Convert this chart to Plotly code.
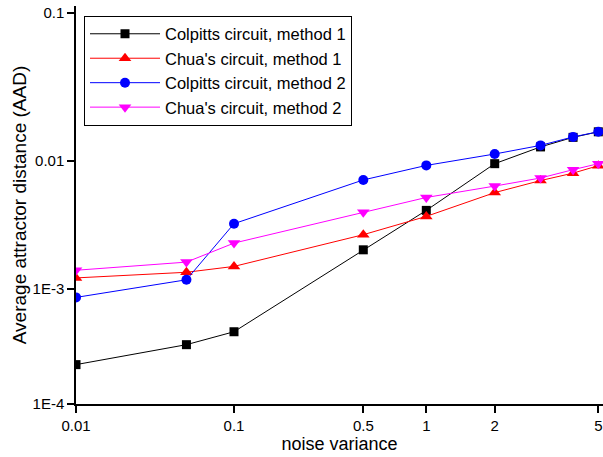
import numpy as np
import plotly.graph_objects as go

# ---- data ----
noise_variance = [0.01, 0.05, 0.1, 0.5, 1, 2, 3, 4, 5]
colpitts_m1 = [2.20e-4, 3.28e-4, 4.25e-4, 2.02e-3, 4.10e-3, 9.48e-3, 1.24e-2, 1.44e-2, 1.57e-2]
chua_m1 = [1.22e-3, 1.35e-3, 1.50e-3, 2.65e-3, 3.68e-3, 5.64e-3, 7.00e-3, 8.00e-3, 9.14e-3]
colpitts_m2 = [8.45e-4, 1.18e-3, 3.23e-3, 7.08e-3, 9.19e-3, 1.11e-2, 1.27e-2, 1.45e-2, 1.57e-2]
chua_m2 = [1.40e-3, 1.62e-3, 2.28e-3, 3.96e-3, 5.17e-3, 6.34e-3, 7.33e-3, 8.51e-3, 9.48e-3]

series_names = ["Colpitts circuit, method 1", "Chua's circuit, method 1",
                "Colpitts circuit, method 2", "Chua's circuit, method 2"]

x_tick_values = [0.01, 0.1, 0.5, 1, 2, 5]
x_tick_labels = ["0.01", "0.1", "0.5", "1", "2", "5"]
y_tick_values = [1e-4, 1e-3, 1e-2, 1e-1]
y_tick_labels = ["1E-4", "1E-3", "0.01", "0.1"]

# ---- axis scales (the reference uses a non-uniform, piecewise logarithmic scale) ----
x_scale_anchor = [0.0, 158.0, 287.3, 350.3, 418.7, 522.3]
y_scale_anchor = [0.0, 115.0, 243.3, 390.8]


def x_scale(v):
    return np.interp(np.log10(np.asarray(v, float)), np.log10(x_tick_values), x_scale_anchor)


def y_scale(v):
    return np.interp(np.log10(np.asarray(v, float)), np.log10(y_tick_values), y_scale_anchor)


styles = [
    dict(color="#000000", symbol="square", size=9),
    dict(color="#FF0000", symbol="triangle-up", size=11),
    dict(color="#0000FF", symbol="circle", size=10),
    dict(color="#FF00FF", symbol="triangle-down", size=11),
]
all_series = [colpitts_m1, chua_m1, colpitts_m2, chua_m2]

fig = go.Figure()
for name, vals, st in zip(series_names, all_series, styles):
    fig.add_trace(go.Scatter(
        x=x_scale(noise_variance), y=y_scale(vals), name=name,
        mode="lines+markers",
        line=dict(color=st["color"], width=1),
        marker=dict(symbol=st["symbol"], size=st["size"], color=st["color"]),
        customdata=np.column_stack([noise_variance, vals]),
        hovertemplate="%{customdata[0]}, %{customdata[1]:.3g}<extra>" + name + "</extra>",
    ))

font_family = "Liberation Sans, Arial, sans-serif"
fig.update_layout(
    width=603, height=457,
    margin=dict(l=76, r=0, t=6, b=53),
    paper_bgcolor="white", plot_bgcolor="white",
    font=dict(family=font_family, color="black", size=15),
    showlegend=True,
    legend=dict(
        x=0.0152, y=0.976, xanchor="left", yanchor="top",
        bordercolor="black", borderwidth=1, bgcolor="white",
        font=dict(size=16.5, family=font_family),
        itemwidth=70, tracegroupgap=0,
        entrywidth=310, entrywidthmode="pixels",
    ),
    xaxis=dict(
        range=[0, 527], showgrid=False, zeroline=False,
        tickvals=x_scale(x_tick_values), ticktext=x_tick_labels,
        ticks="outside", ticklen=7, tickwidth=1.5, tickcolor="black",
        showline=True, linecolor="black", linewidth=1.5,
        tickfont=dict(size=15),
        title=dict(text="noise variance", font=dict(size=18), standoff=5),
        automargin=False,
    ),
    yaxis=dict(
        range=[0, 398], showgrid=False, zeroline=False,
        tickvals=y_scale(y_tick_values), ticktext=y_tick_labels,
        ticks="outside", ticklen=7, tickwidth=1.5, tickcolor="black",
        showline=True, linecolor="black", linewidth=1.5,
        tickfont=dict(size=15),
        title=dict(text="Average attractor distance (AAD)", font=dict(size=19), standoff=1),
        automargin=False,
    ),
)

fig.write_html("out.html", config={"displayModeBar": False},
               post_script="document.body.style.margin='0';")
